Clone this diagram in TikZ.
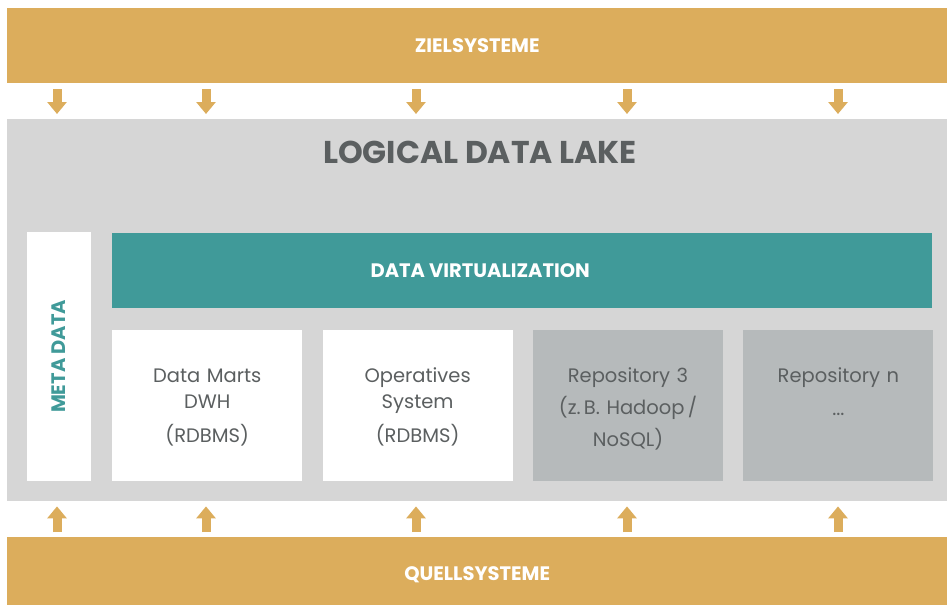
\documentclass[tikz,border=0pt]{standalone}
\usepackage{fontspec}
\setmainfont{Poppins}
\usetikzlibrary{arrows.meta, positioning}

\definecolor{gold}{HTML}{DCAD5C}
\definecolor{lakegray}{HTML}{D6D6D6}
\definecolor{virtteal}{HTML}{409A99}
\definecolor{repogray}{HTML}{B6BABB}
\definecolor{textgray}{HTML}{5B5F60}

\begin{document}
\begin{tikzpicture}[x=1pt, y=-1pt, node distance=20pt,
    bar/.style={rectangle, fill=gold, text=white, font=\bfseries\fontsize{19.5}{22}\selectfont, minimum width=940pt, inner sep=0pt, anchor=north west},
    repo/.style={rectangle, fill=white, text=textgray, text width=190pt, align=center, inner sep=0pt, text height=52pt, text depth=99pt, font=\fontsize{19.5}{26}\selectfont},
    flow/.style={line width=9pt, draw=gold, -{Triangle[width=19pt,length=12pt]}}]
\useasboundingbox (0,0) rectangle (947,605);

\node [bar, minimum height=75pt] (ziel) at (7,8) {ZIELSYSTEME};
\node [rectangle, fill=lakegray, minimum width=940pt, minimum height=382pt, anchor=north west] (lake) at (7,119) {};
\node [bar, minimum height=68pt, label={[yshift=-4pt, text=white, font=\bfseries\fontsize{19.5}{22}\selectfont]center:QUELLSYSTEME}] (quell) at (7,537) {};
\node [text=textgray, font=\bfseries\fontsize{31.5}{36}\selectfont] (title) at (480,152) {LOGICAL DATA LAKE};

\node [rectangle, fill=white, minimum width=249pt, minimum height=64pt, rotate=90, text=virtteal, font=\bfseries\fontsize{19.5}{22}\selectfont] (meta) at (59,356.5) {META DATA};
\node [rectangle, fill=virtteal, minimum width=820pt, minimum height=75pt, anchor=north west,
    label={[xshift=-42pt, text=white, font=\bfseries\fontsize{19.5}{22}\selectfont]center:DATA VIRTUALIZATION}] (virt) at (112,233) {};

\node [repo, anchor=north west] (dwh) at (112,330) {Data Marts\\DWH\\[8pt](RDBMS)};
\node [repo, right=of dwh] (ops) {Operatives\\System\\[8pt](RDBMS)};
\node [repo, fill=repogray, right=of ops, font=\fontsize{19.5}{32}\selectfont] (repo3) {Repository 3\\(z.\,B. Hadoop\,/\\NoSQL)};
\node [repo, fill=repogray, right=of repo3, font=\fontsize{19.5}{33}\selectfont] (repon) {Repository n\\...};

% arrows in and out of the lake
\foreach \x in {57,206,416,627,838} {
    \draw [flow, shorten <=6pt, shorten >=5pt] (ziel.south -| \x,0) -- (lake.north -| \x,0);
    \draw [flow, shorten <=5pt, shorten >=5pt] (quell.north -| \x,0) -- (lake.south -| \x,0);
}
\end{tikzpicture}
\end{document}
